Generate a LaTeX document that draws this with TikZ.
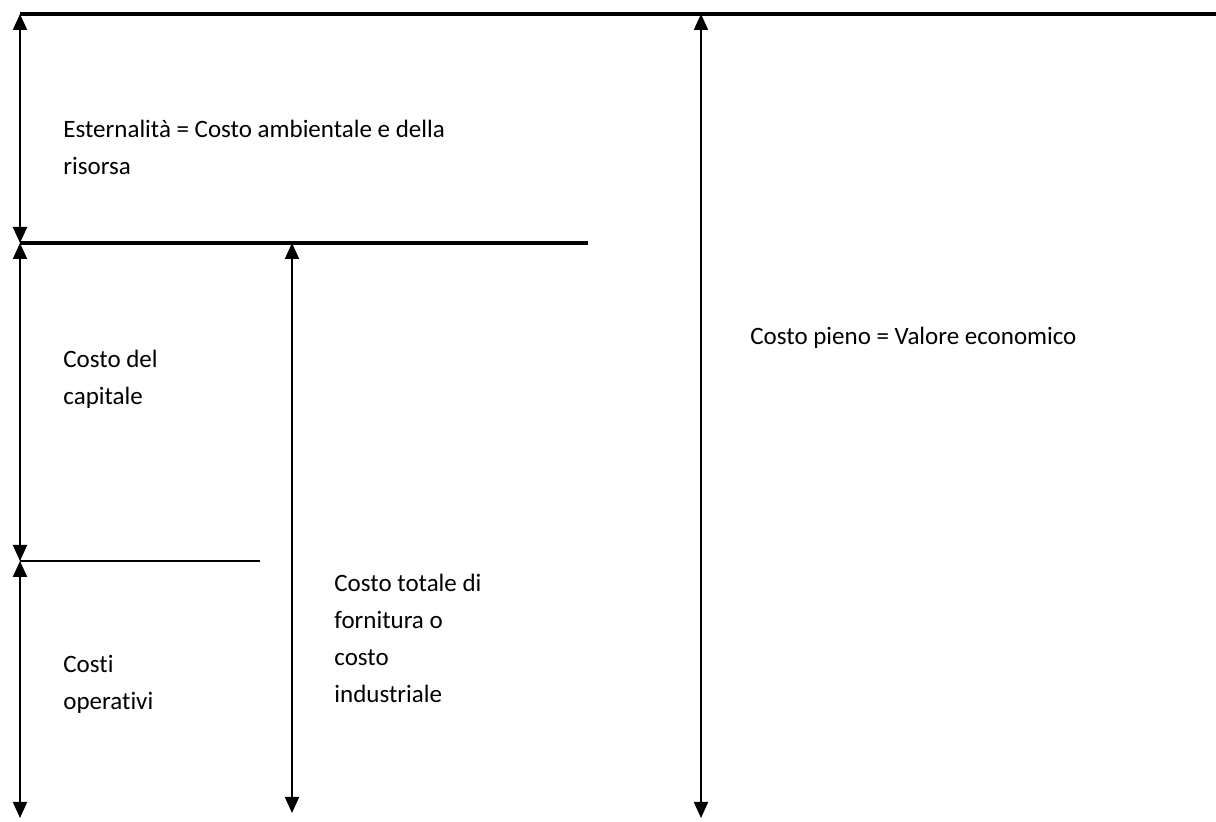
\documentclass[tikz,border=0pt]{standalone}
\usepackage{fontspec}
\setmainfont{Carlito}[Ligatures=NoCommon]
\usetikzlibrary{arrows.meta}

\begin{document}
\begin{tikzpicture}[x=0.5pt, y=-0.5pt,
    dimline/.style={{Triangle[width=7pt,length=8pt]}-{Triangle[width=7pt,length=8pt]}, line width=1pt},
    levelline/.style={line width=1.9pt},
    costlabel/.style={anchor=base west, align=left, inner sep=0pt, font=\fontsize{12.5}{18.5}\selectfont}]
    \useasboundingbox (0,0) rectangle (1216,822);
    % levels
    \coordinate (topL) at (20,14);
    \coordinate (topR) at (1216,14);
    \coordinate (midL) at (20,243);
    \coordinate (midR) at (588,243);
    \coordinate (lowL) at (20,561);
    \coordinate (lowR) at (260,561);
    \coordinate (botL) at (20,818);
    \coordinate (totT) at (292,243);
    \coordinate (totB) at (292,813);
    \coordinate (fullT) at (701,14);
    \coordinate (fullB) at (701,818);
    \draw[levelline] (topL) -- (topR);
    \draw[levelline] (midL) -- (midR);
    \draw[line width=1pt] (lowL) -- (lowR);
    % dimension arrows
    \draw[dimline] (topL) -- (midL);
    \draw[dimline] (midL) -- (lowL);
    \draw[dimline] (lowL) -- (botL);
    \draw[dimline] (totT) -- (totB);
    \draw[dimline] (fullT) -- (fullB);
    % labels (anchored at the baseline of the last line)
    \node[costlabel] (ext) at (63,175) {Esternalità = Costo ambientale e della\\risorsa};
    \node[costlabel] (cap) at (63,405) {Costo del\\capitale};
    \node[costlabel] (ope) at (63,710) {Costi\\operativi};
    \node[costlabel] (tot) at (334,703) {Costo totale di\\fornitura o\\costo\\industriale};
    \node[costlabel] (full) at (750,345) {Costo pieno = Valore economico};
\end{tikzpicture}
\end{document}
